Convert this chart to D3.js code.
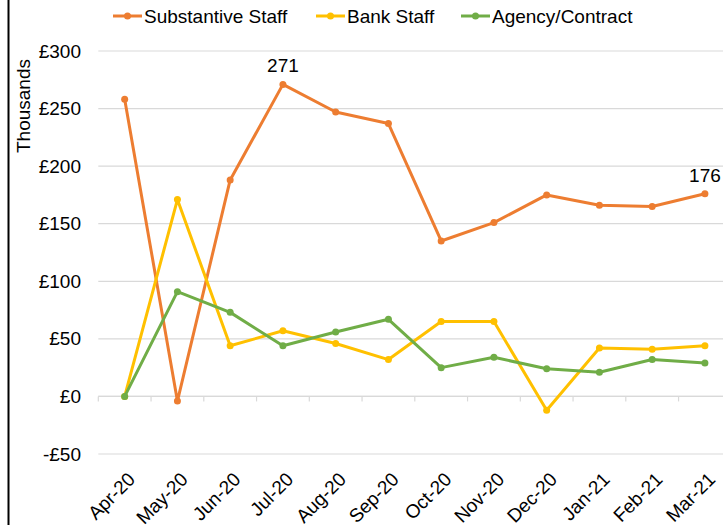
<!DOCTYPE html>
<html>
<head>
<meta charset="utf-8">
<script src="https://cdn.jsdelivr.net/npm/d3@7"></script>
<style>
  html, body { margin: 0; padding: 0; background: #fff; }
  svg { display: block; font-family: "Liberation Sans", Arial, sans-serif; }
</style>
</head>
<body>
<svg id="chart" width="723" height="525"></svg>
<script>
// Monthly staff costs, £ thousands
const months = ["Apr-20","May-20","Jun-20","Jul-20","Aug-20","Sep-20","Oct-20","Nov-20","Dec-20","Jan-21","Feb-21","Mar-21"];
const substantive = [258, -4, 188, 271, 247, 237, 135, 151, 175, 166, 165, 176];
const bank = [0, 171, 44, 57, 46, 32, 65, 65, -12, 42, 41, 44];
const agency = [0, 91, 73, 44, 56, 67, 25, 34, 24, 21, 32, 29];
const yTicks = [-50, 0, 50, 100, 150, 200, 250, 300];
const seriesNames = ["Substantive Staff", "Bank Staff", "Agency/Contract"];
const seriesColors = ["#ED7D31", "#FFC000", "#70AD47"];
const labelled = [{ series: 0, index: 3 }, { series: 0, index: 11 }];

const FS = 19;
const svg = d3.select("#chart");
const plot = { left: 98.3, right: 731.3, top: 51, bottom: 454 };

const x = d3.scaleBand().domain(months).range([plot.left, plot.right]).paddingInner(0).paddingOuter(0);
const y = d3.scaleLinear().domain([-50, 300]).range([plot.bottom, plot.top]);
const cx = m => x(m) + x.bandwidth() / 2;

// Left frame edge
svg.append("line").attr("x1", 8.5).attr("x2", 8.5).attr("y1", 0).attr("y2", 525)
  .attr("stroke", "#000").attr("stroke-width", 2);

// Horizontal gridlines
svg.append("g").selectAll("line").data(yTicks).join("line")
  .attr("x1", plot.left).attr("x2", plot.right)
  .attr("y1", d => y(d)).attr("y2", d => y(d))
  .attr("stroke", "#d9d9d9").attr("stroke-width", 1.2);

// Y axis labels
const yAxis = d3.axisLeft(y).tickValues(yTicks).tickSize(0).tickPadding(0)
  .tickFormat(d => (d < 0 ? "-£" : "£") + Math.abs(d));
const gy = svg.append("g").attr("transform", `translate(81,0)`).call(yAxis);
gy.select(".domain").remove();
gy.selectAll("text").attr("font-size", FS).attr("fill", "#000")
  .attr("font-family", "Liberation Sans, Arial, sans-serif");

// Axis title
svg.append("text").attr("transform", "translate(30,106) rotate(-90)")
  .attr("text-anchor", "middle").attr("font-size", FS).text("Thousands");

// Category axis at zero with tick marks at band edges
const zeroY = y(0);
svg.append("line").attr("x1", plot.left).attr("x2", plot.right)
  .attr("y1", zeroY).attr("y2", zeroY).attr("stroke", "#d9d9d9").attr("stroke-width", 1.2);
const edges = months.map(m => x(m)).concat([x(months[months.length - 1]) + x.bandwidth()]);
svg.append("g").selectAll("line").data(edges).join("line")
  .attr("x1", d => d).attr("x2", d => d)
  .attr("y1", zeroY).attr("y2", zeroY + 5)
  .attr("stroke", "#d9d9d9").attr("stroke-width", 1.2);

// Rotated category labels
svg.append("g").selectAll("text").data(months).join("text")
  .attr("transform", m => `translate(${cx(m) + 2},${471}) rotate(-45)`)
  .attr("text-anchor", "end").attr("dy", "0.71em")
  .attr("font-size", FS).text(m => m);

// Lines and markers
const allSeries = [substantive, bank, agency];
const line = d3.line().x((d, i) => cx(months[i])).y(d => y(d));
allSeries.forEach((vals, s) => {
  svg.append("path").datum(vals).attr("d", line)
    .attr("fill", "none").attr("stroke", seriesColors[s]).attr("stroke-width", 3)
    .attr("stroke-linejoin", "round").attr("stroke-linecap", "round");
  svg.append("g").selectAll("circle").data(vals).join("circle")
    .attr("cx", (d, i) => cx(months[i])).attr("cy", d => y(d))
    .attr("r", 3.5).attr("fill", seriesColors[s]);
});

// Value labels
labelled.forEach(l => {
  const v = allSeries[l.series][l.index];
  svg.append("text").attr("x", cx(months[l.index])).attr("y", y(v) - 12)
    .attr("text-anchor", "middle").attr("font-size", FS).text(v);
});

// Legend
const legendX = [113, 316, 461];
const legend = svg.append("g");
seriesNames.forEach((name, s) => {
  const g = legend.append("g").attr("transform", `translate(${legendX[s]},16)`);
  g.append("line").attr("x1", 0).attr("x2", 29).attr("y1", 0).attr("y2", 0)
    .attr("stroke", seriesColors[s]).attr("stroke-width", 3);
  g.append("circle").attr("cx", 14.5).attr("cy", 0).attr("r", 3.5).attr("fill", seriesColors[s]);
  g.append("text").attr("x", 31).attr("y", 0).attr("dy", "0.36em")
    .attr("font-size", FS).text(name);
});
</script>
</body>
</html>
